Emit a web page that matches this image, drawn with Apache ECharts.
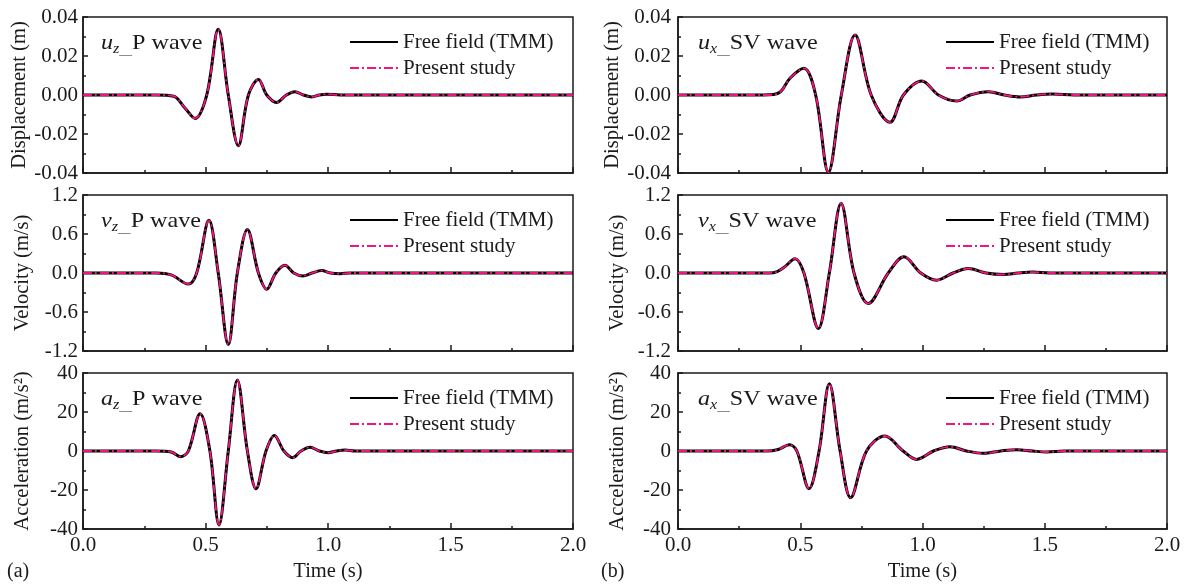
<!DOCTYPE html>
<html>
<head>
<meta charset="utf-8">
<script src="https://cdn.jsdelivr.net/npm/echarts@6/dist/echarts.min.js"></script>
<style>html,body{margin:0;padding:0;background:#fff;}#c{width:1189px;height:588px;}</style>
</head>
<body>
<div id="c"></div>
<script>
// ---- data (time in s) ----
const seriesNames = ['Free field (TMM)', 'Present study'];
const xTicks = [0.0, 0.5, 1.0, 1.5, 2.0];

// (a) P wave
const tUz = [0, 0.30, 0.37, 0.415, 0.457, 0.505, 0.552, 0.593, 0.634, 0.675, 0.716, 0.750, 0.790, 0.830, 0.865, 0.900, 0.933, 0.965, 0.994, 1.05, 2.0];
const uzP = [0, 0, -0.0006, -0.0065, -0.0120, 0, 0.0337, 0, -0.0260, 0, 0.0080, 0, -0.0038, 0, 0.0017, 0, -0.0010, 0, 0.0004, 0, 0];

const tVz = [0, 0.30, 0.36, 0.43, 0.464, 0.514, 0.552, 0.593, 0.630, 0.671, 0.716, 0.750, 0.787, 0.824, 0.860, 0.897, 0.935, 0.974, 1.010, 1.049, 1.09, 2.0];
const vzP = [0, 0, -0.03, -0.17, 0, 0.81, 0, -1.10, 0, 0.67, 0, -0.25, 0, 0.12, 0, -0.045, 0, 0.038, 0, -0.01, 0, 0];

const tAz = [0, 0.30, 0.36, 0.399, 0.430, 0.478, 0.518, 0.555, 0.593, 0.630, 0.671, 0.706, 0.747, 0.781, 0.820, 0.856, 0.890, 0.927, 0.965, 1.001, 1.035, 1.07, 1.11, 2.0];
const azP = [0, 0, -0.5, -2.9, 0, 19.1, 0, -37.9, 0, 36.4, 0, -19.3, 0, 8.0, 0, -3.4, 0, 1.9, 0, -0.85, 0, 0.5, 0, 0];

// (b) SV wave
const tUx = [0, 0.35, 0.39, 0.42, 0.458, 0.515, 0.563, 0.615, 0.668, 0.724, 0.790, 0.867, 0.922, 0.997, 1.065, 1.140, 1.195, 1.270, 1.335, 1.399, 1.465, 1.530, 1.62, 2.0];
const uxSV = [0, 0, 0.0002, 0.0017, 0.0086, 0.0137, 0, -0.0396, 0, 0.0308, 0, -0.0140, 0, 0.0072, 0, -0.0031, 0, 0.0017, 0, -0.0010, 0, 0.0005, 0, 0];

const tVx = [0, 0.35, 0.39, 0.43, 0.479, 0.515, 0.574, 0.619, 0.667, 0.720, 0.778, 0.860, 0.924, 0.993, 1.058, 1.125, 1.187, 1.260, 1.331, 1.390, 1.450, 1.52, 2.0];
const vxSV = [0, 0, 0.005, 0.076, 0.22, 0, -0.853, 0, 1.07, 0, -0.47, 0, 0.25, 0, -0.11, 0, 0.069, 0, -0.023, 0, 0.015, 0, 0];

const tAx = [0, 0.36, 0.41, 0.455, 0.486, 0.536, 0.577, 0.619, 0.663, 0.706, 0.771, 0.846, 0.921, 0.976, 1.045, 1.112, 1.180, 1.249, 1.320, 1.385, 1.450, 1.508, 1.58, 2.0];
const axSV = [0, 0, 0.8, 3.2, 0, -19.3, 0, 34.5, 0, -23.9, 0, 7.7, 0, -4.3, 0, 2.2, 0, -1.2, 0, 0.7, 0, -0.5, 0, 0];

const dispTicks = [-0.04, -0.02, 0.00, 0.02, 0.04];
const velTicks = [-1.2, -0.6, 0.0, 0.6, 1.2];
const accTicks = [-40, -20, 0, 20, 40];

// ---- layout / style ----
const FONT = 'Liberation Serif';
const PINK = '#F2147F';
const AX = '#1a1a1a';
const tops = [17, 195, 373];
const H = 156;
const cols = [{left: 83, width: 490, legendLeft: 349, annLeft: 101, labelMargin: 5},
              {left: 678, width: 489, legendLeft: 945, annLeft: 698, labelMargin: 7}];

const panels = [
  {col: 0, row: 0, t: tUz, v: uzP, ticks: dispTicks, dec: 2, yName: 'Displacement (m)', sym: 'u', sub: 'z', wave: 'P wave'},
  {col: 0, row: 1, t: tVz, v: vzP, ticks: velTicks, dec: 1, yName: 'Velocity (m/s)', sym: 'v', sub: 'z', wave: 'P wave'},
  {col: 0, row: 2, t: tAz, v: azP, ticks: accTicks, dec: 0, yName: 'Acceleration (m/s²)', sym: 'a', sub: 'z', wave: 'P wave'},
  {col: 1, row: 0, t: tUx, v: uxSV, ticks: dispTicks, dec: 2, yName: 'Displacement (m)', sym: 'u', sub: 'x', wave: 'SV wave'},
  {col: 1, row: 1, t: tVx, v: vxSV, ticks: velTicks, dec: 1, yName: 'Velocity (m/s)', sym: 'v', sub: 'x', wave: 'SV wave'},
  {col: 1, row: 2, t: tAx, v: axSV, ticks: accTicks, dec: 0, yName: 'Acceleration (m/s²)', sym: 'a', sub: 'x', wave: 'SV wave'}
];

const grid = [], xAxis = [], yAxis = [], series = [], legend = [], graphic = [];
const lineS = {color: AX, width: 1.5};

panels.forEach((p, i) => {
  const c = cols[p.col];
  const top = tops[p.row];
  const bottom = p.row === 2;
  grid.push({left: c.left, top: top, width: c.width, height: H, show: true,
    borderColor: AX, borderWidth: 1.5, backgroundColor: 'transparent', containLabel: false});
  xAxis.push({gridIndex: i, type: 'value', min: xTicks[0], max: xTicks[xTicks.length - 1],
    interval: xTicks[1] - xTicks[0],
    axisLine: {show: true, onZero: false, lineStyle: lineS},
    axisTick: {show: true, inside: true, length: 6, lineStyle: lineS},
    minorTick: {show: true, splitNumber: 2, length: 3, lineStyle: lineS},
    splitLine: {show: false},
    axisLabel: {show: bottom, margin: 6, color: AX, fontFamily: FONT, fontSize: 21,
      formatter: v => v.toFixed(1)},
    name: bottom ? 'Time (s)' : '', nameLocation: 'middle', nameGap: 32,
    nameTextStyle: {color: AX, fontFamily: FONT, fontSize: 20.5}});
  const tk = p.ticks;
  yAxis.push({gridIndex: i, type: 'value', min: tk[0], max: tk[tk.length - 1], interval: tk[1] - tk[0],
    axisLine: {show: true, onZero: false, lineStyle: lineS},
    axisTick: {show: true, inside: true, length: 5, lineStyle: lineS},
    minorTick: {show: true, splitNumber: 2, length: 3, lineStyle: lineS},
    splitLine: {show: false},
    axisLabel: {margin: c.labelMargin, color: AX, fontFamily: FONT, fontSize: 21,
      formatter: v => v.toFixed(p.dec)},
    name: p.yName, nameLocation: 'middle', nameGap: 50,
    nameTextStyle: {color: AX, fontFamily: FONT, fontSize: 20.5}});
  const data = p.t.map((t, k) => [t, p.v[k]]);
  series.push({type: 'line', name: seriesNames[0], xAxisIndex: i, yAxisIndex: i, data: data,
    smooth: 0.35, symbol: 'none', showSymbol: false, animation: false,
    lineStyle: {color: '#000', width: 3}, itemStyle: {color: '#000'}});
  series.push({type: 'line', name: seriesNames[1], xAxisIndex: i, yAxisIndex: i, data: data,
    smooth: 0.35, symbol: 'none', showSymbol: false, animation: false,
    lineStyle: {color: PINK, width: 1.8, type: [9, 3, 2, 3]}, itemStyle: {color: PINK}});
  legend.push({orient: 'vertical', left: c.legendLeft, top: top + 14.5, padding: 0,
    itemWidth: 48, itemHeight: 14, itemGap: 5, selectedMode: false, data: seriesNames,
    itemStyle: {opacity: 0, borderWidth: 0},
    textStyle: {color: AX, fontFamily: FONT, fontSize: 21}});
  graphic.push({type: 'text', x: c.annLeft, y: top + 13.6, scaleX: 1.15, scaleY: 1, silent: true,
    style: {text: '{i|' + p.sym + '}{s|' + p.sub + '}{b|__}{n|' + p.wave + '}',
      fill: AX, verticalAlign: 'top', align: 'left',
      rich: {
        i: {fontFamily: FONT, fontStyle: 'italic', fontSize: 21, lineHeight: 26, fill: AX},
        s: {fontFamily: FONT, fontStyle: 'italic', fontSize: 14, lineHeight: 12, verticalAlign: 'bottom', fill: AX},
        b: {fontFamily: FONT, fontSize: 11, lineHeight: 12, verticalAlign: 'bottom', fill: AX},
        n: {fontFamily: FONT, fontSize: 21, lineHeight: 26, fill: AX}
      }}});
});

graphic.push({type: 'text', left: 7, top: 562, silent: true,
  style: {text: '(a)', fill: AX, font: '20px "Liberation Serif"'}});
graphic.push({type: 'text', left: 601, top: 562, silent: true,
  style: {text: '(b)', fill: AX, font: '20px "Liberation Serif"'}});

const chart = echarts.init(document.getElementById('c'), null, {renderer: 'canvas'});
chart.setOption({animation: false, backgroundColor: '#fff', grid, xAxis, yAxis, series, legend, graphic});
</script>
</body>
</html>
